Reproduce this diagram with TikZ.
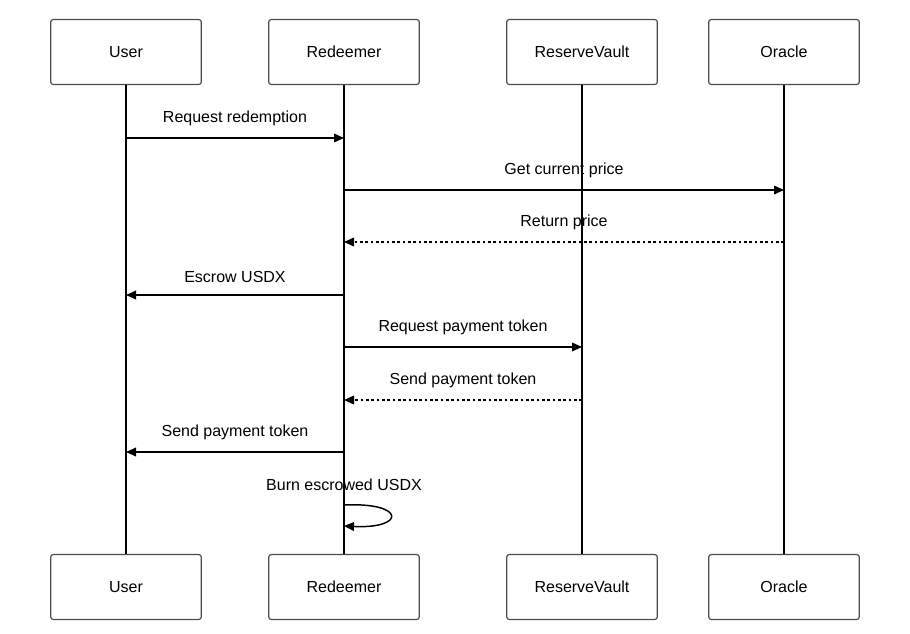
\documentclass[tikz,border=0pt]{standalone}
\usepackage{fontspec}
\setmainfont{Liberation Sans}
\usetikzlibrary{arrows.meta,positioning}

\begin{document}
\begin{tikzpicture}[x=0.75pt,y=-0.75pt,
	actor/.style={rectangle,draw=black!70,line width=0.9pt,rounded corners=2pt,
		minimum width=113pt,minimum height=48.75pt,font=\fontsize{12}{14}\selectfont},
	life/.style={line width=1.5pt},
	msg/.style={line width=1.1pt,-{Triangle[length=7.5pt,width=6.5pt]}},
	reply/.style={msg,dash pattern=on 2pt off 2pt},
	lbl/.style={font=\fontsize{12}{14}\selectfont,above=5.5pt}]
	\useasboundingbox (0,0) rectangle (910,633);

	\node[actor] (U)  at (126,52)  {User};
	\node[actor] (R)  at (344,52)  {Redeemer};
	\node[actor] (V)  at (582,52)  {ReserveVault};
	\node[actor] (O)  at (784,52)  {Oracle};
	\node[actor] (U2) at (126,587) {User};
	\node[actor] (R2) at (344,587) {Redeemer};
	\node[actor] (V2) at (582,587) {ReserveVault};
	\node[actor] (O2) at (784,587) {Oracle};

	\foreach \a in {U,R,V,O}
		\draw[life] (\a) -- (\a2);

	\draw[msg]   (U |- 0,138) -- node[lbl] {Request redemption} (R |- 0,138);
	\draw[msg]   (R |- 0,190) -- node[lbl] {Get current price} (O |- 0,190);
	\draw[reply] (O |- 0,242) -- node[lbl] {Return price} (R |- 0,242);
	\draw[msg]   (R |- 0,295) -- node[lbl] {Escrow USDX} (U |- 0,295);
	\draw[msg]   (R |- 0,347) -- node[lbl] {Request payment token} (V |- 0,347);
	\draw[reply] (V |- 0,400) -- node[lbl] {Send payment token} (R |- 0,400);
	\draw[msg]   (R |- 0,452) -- node[lbl] {Send payment token} (U |- 0,452);

	%self message
	\node[lbl,above=0pt] (burn) at (R |- 0,495) {Burn escrowed USDX};
	\draw[msg] (R |- 0,505) .. controls +(62,-3) and +(62,3) .. (R |- 0,526);
\end{tikzpicture}
\end{document}
